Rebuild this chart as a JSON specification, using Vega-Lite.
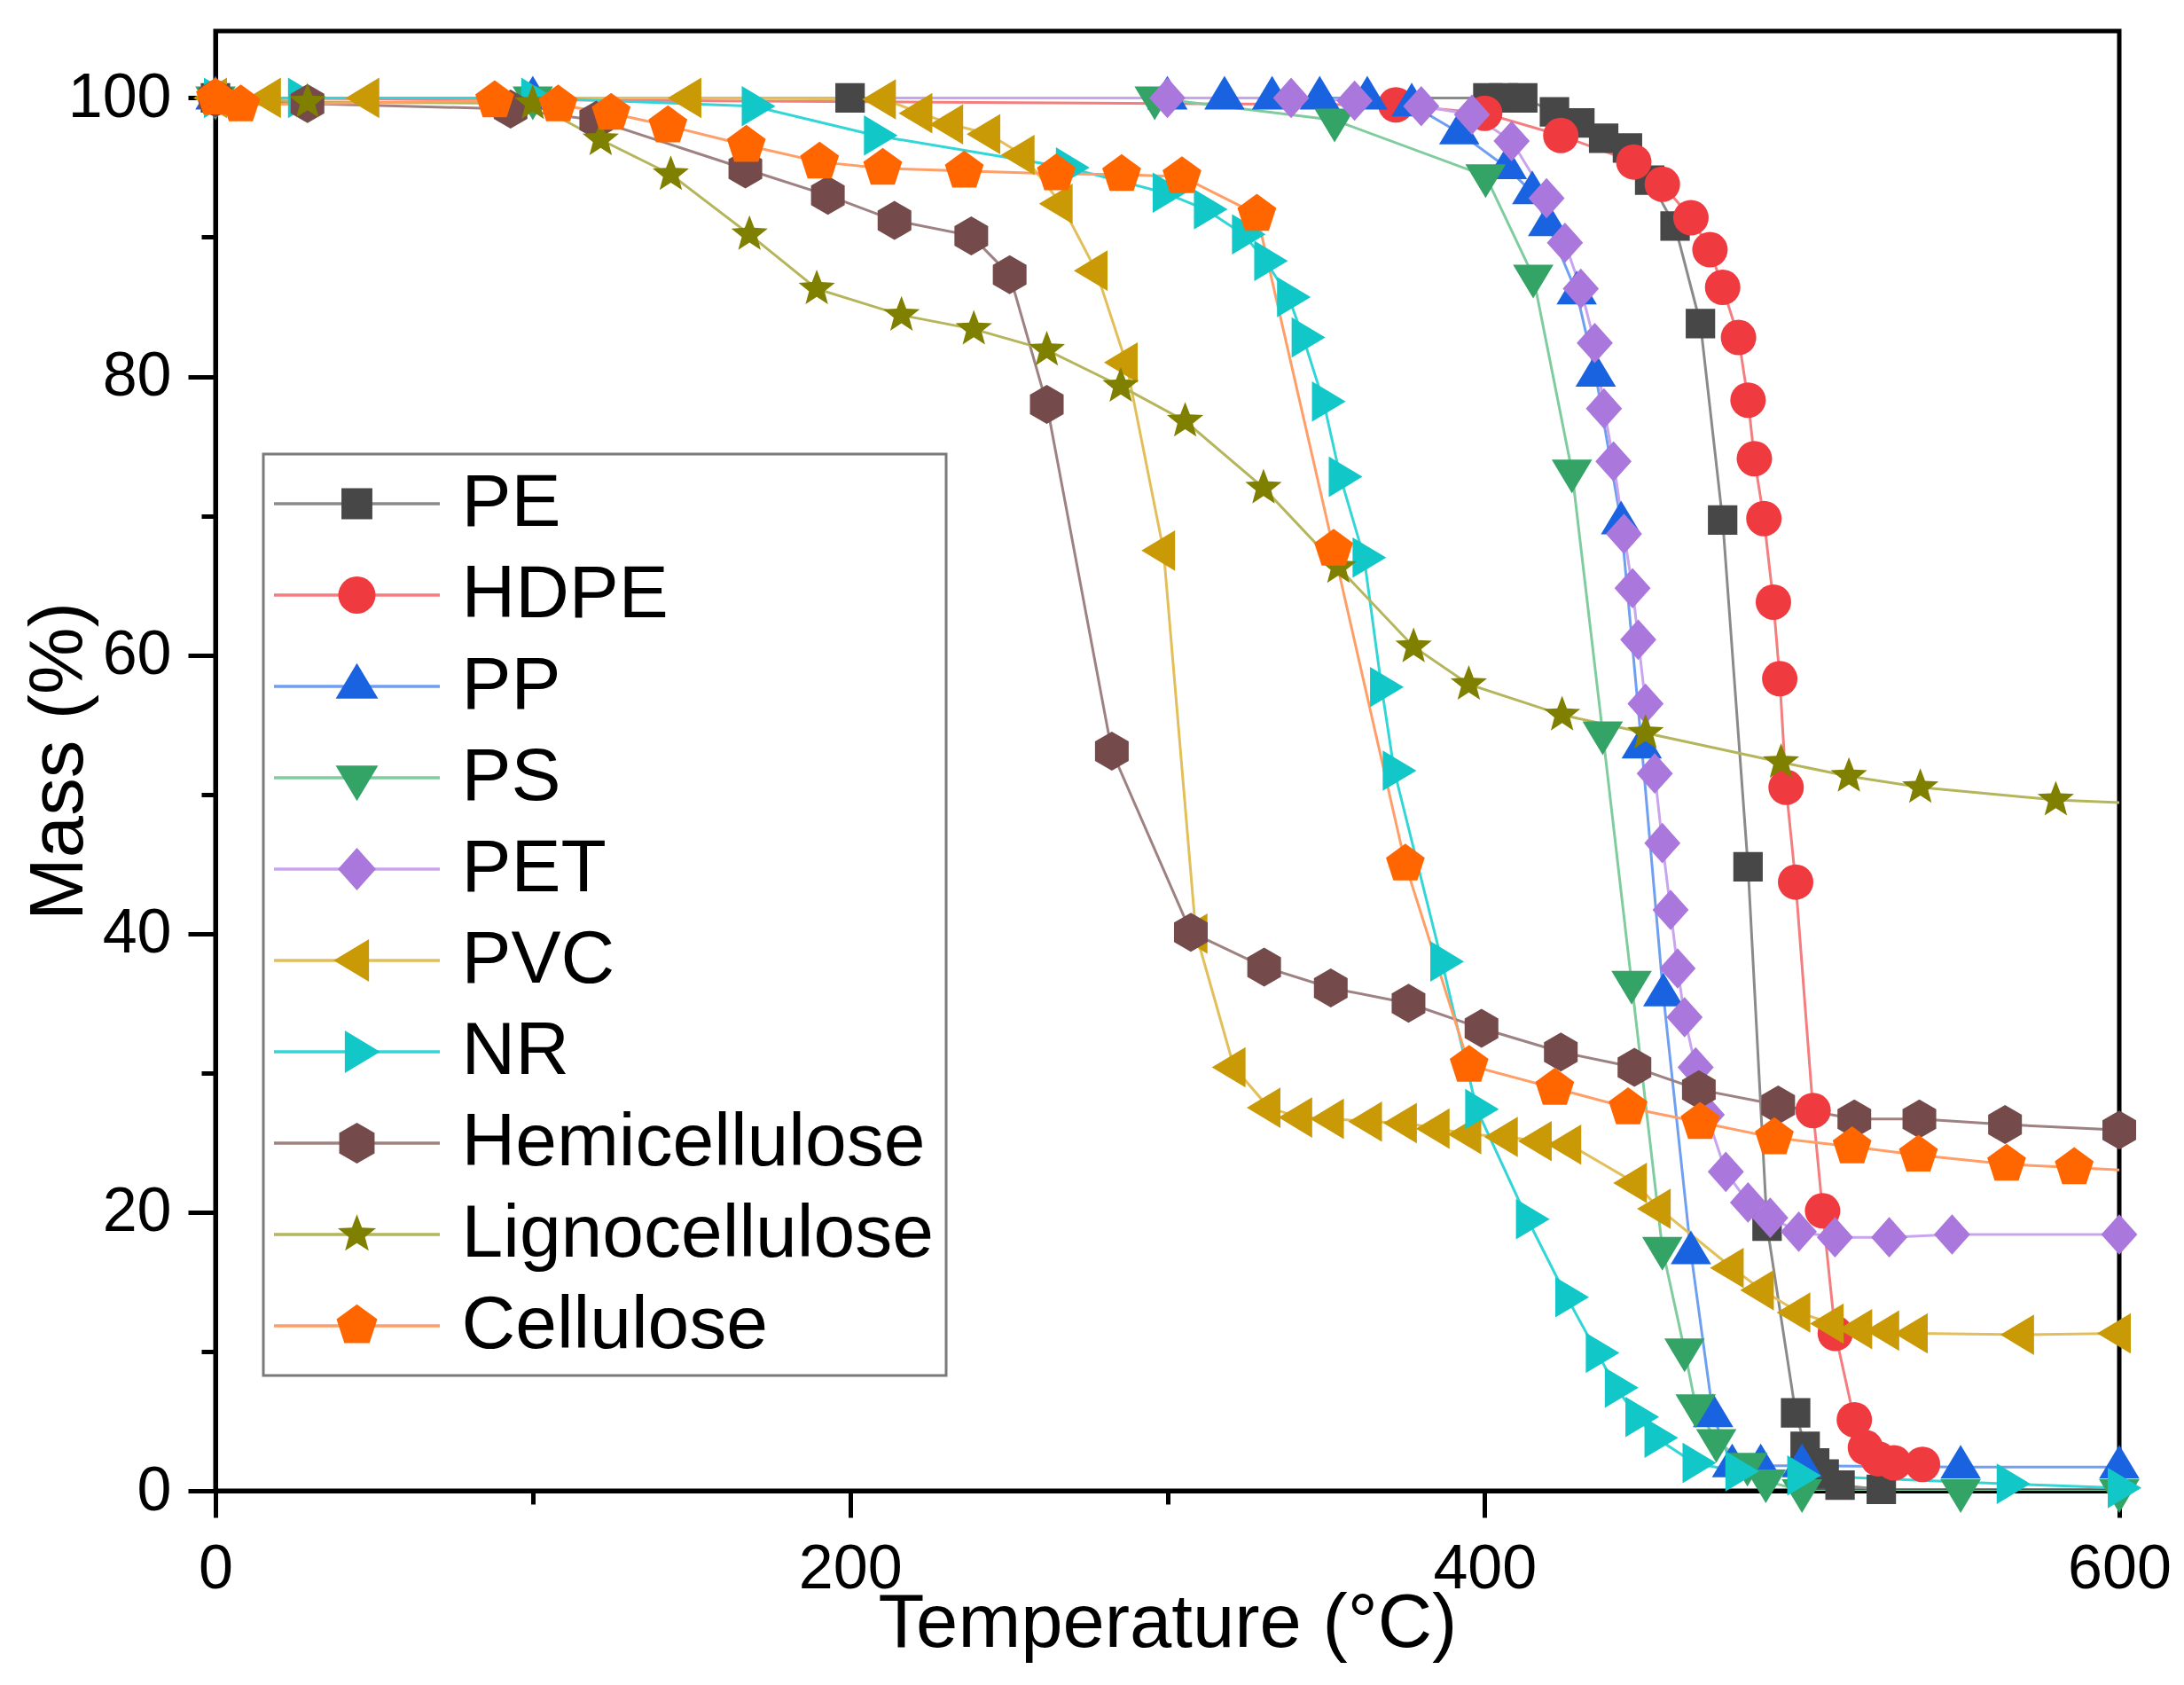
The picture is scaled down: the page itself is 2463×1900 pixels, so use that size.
{
  "$schema": "https://vega.github.io/schema/vega-lite/v6.json",
  "description": "Thermogravimetric mass loss curves of plastics and biomass components",
  "width": 2147,
  "height": 1646,
  "autosize": {"type": "none"},
  "padding": {"left": 243, "top": 35, "right": 73, "bottom": 219},
  "background": "white",
  "config": {
    "font": "Liberation Sans",
    "view": {"stroke": "#000000", "strokeWidth": 5},
    "axis": {
      "grid": false,
      "domainColor": "#000000",
      "domainWidth": 5,
      "tickColor": "#000000",
      "tickWidth": 5,
      "labelFont": "Liberation Sans",
      "labelFontSize": 70,
      "labelColor": "#000000",
      "labelFlush": false,
      "labelOverlap": false,
      "titleFont": "Liberation Sans",
      "titleFontSize": 85,
      "titleFontWeight": "normal",
      "titleColor": "#000000"
    },
    "legend": {"labelFont": "Liberation Sans", "labelFontSize": 84, "labelColor": "#000000", "labelLimit": 0}
  },
  "data": {
    "values": [
      {"s": "PE", "t": 0, "m": 100}, {"s": "PE", "t": 200, "m": 100}, {"s": "PE", "t": 401, "m": 100},
      {"s": "PE", "t": 406, "m": 100}, {"s": "PE", "t": 412, "m": 100}, {"s": "PE", "t": 422, "m": 99.0},
      {"s": "PE", "t": 430, "m": 98.2}, {"s": "PE", "t": 437.5, "m": 97.1}, {"s": "PE", "t": 445, "m": 96.4},
      {"s": "PE", "t": 452, "m": 94.1}, {"s": "PE", "t": 460, "m": 90.8}, {"s": "PE", "t": 468, "m": 83.8},
      {"s": "PE", "t": 475, "m": 69.7}, {"s": "PE", "t": 483, "m": 44.8}, {"s": "PE", "t": 489, "m": 19},
      {"s": "PE", "t": 498, "m": 5.6}, {"s": "PE", "t": 501, "m": 3.2}, {"s": "PE", "t": 504, "m": 2},
      {"s": "PE", "t": 507, "m": 1.2}, {"s": "PE", "t": 512, "m": 0.4}, {"s": "PE", "t": 525, "m": 0.1},

      {"s": "HDPE", "t": 0, "m": 100}, {"s": "HDPE", "t": 372, "m": 99.5}, {"s": "HDPE", "t": 400, "m": 98.9},
      {"s": "HDPE", "t": 424, "m": 97.3}, {"s": "HDPE", "t": 447, "m": 95.4}, {"s": "HDPE", "t": 456, "m": 93.8},
      {"s": "HDPE", "t": 465, "m": 91.4}, {"s": "HDPE", "t": 471, "m": 89.1}, {"s": "HDPE", "t": 475, "m": 86.4},
      {"s": "HDPE", "t": 480, "m": 82.8}, {"s": "HDPE", "t": 483, "m": 78.3}, {"s": "HDPE", "t": 485, "m": 74.1},
      {"s": "HDPE", "t": 488, "m": 69.8}, {"s": "HDPE", "t": 491, "m": 63.8}, {"s": "HDPE", "t": 493, "m": 58.3},
      {"s": "HDPE", "t": 495, "m": 50.5}, {"s": "HDPE", "t": 498, "m": 43.7}, {"s": "HDPE", "t": 503.5, "m": 27.3},
      {"s": "HDPE", "t": 506.5, "m": 20.1}, {"s": "HDPE", "t": 510.5, "m": 11.3}, {"s": "HDPE", "t": 516.5, "m": 5.1},
      {"s": "HDPE", "t": 520, "m": 3.1}, {"s": "HDPE", "t": 524, "m": 2.3}, {"s": "HDPE", "t": 529, "m": 2.0},
      {"s": "HDPE", "t": 538, "m": 1.9},

      {"s": "PP", "t": 0, "m": 100}, {"s": "PP", "t": 100, "m": 100}, {"s": "PP", "t": 300, "m": 100},
      {"s": "PP", "t": 318, "m": 100}, {"s": "PP", "t": 333, "m": 100}, {"s": "PP", "t": 348, "m": 100},
      {"s": "PP", "t": 363, "m": 100}, {"s": "PP", "t": 377, "m": 99.5}, {"s": "PP", "t": 392, "m": 97.5},
      {"s": "PP", "t": 407, "m": 95}, {"s": "PP", "t": 415, "m": 93.2}, {"s": "PP", "t": 420, "m": 90.9},
      {"s": "PP", "t": 429, "m": 86}, {"s": "PP", "t": 435, "m": 80.1}, {"s": "PP", "t": 443, "m": 69.5},
      {"s": "PP", "t": 449.5, "m": 53.4}, {"s": "PP", "t": 456.3, "m": 35.6}, {"s": "PP", "t": 465, "m": 17.1},
      {"s": "PP", "t": 472, "m": 5.4}, {"s": "PP", "t": 478, "m": 1.8}, {"s": "PP", "t": 487, "m": 1.8},
      {"s": "PP", "t": 500, "m": 1.8}, {"s": "PP", "t": 550, "m": 1.7}, {"s": "PP", "t": 600, "m": 1.7},

      {"s": "PS", "t": 0, "m": 100}, {"s": "PS", "t": 100, "m": 100}, {"s": "PS", "t": 296, "m": 100},
      {"s": "PS", "t": 352.7, "m": 98.4}, {"s": "PS", "t": 400.3, "m": 94.4}, {"s": "PS", "t": 415.3, "m": 87.2},
      {"s": "PS", "t": 427.5, "m": 73.2}, {"s": "PS", "t": 437.2, "m": 54.4}, {"s": "PS", "t": 446.3, "m": 36.5},
      {"s": "PS", "t": 456, "m": 17.4}, {"s": "PS", "t": 463, "m": 10.1}, {"s": "PS", "t": 466.5, "m": 6.1},
      {"s": "PS", "t": 473, "m": 3.6}, {"s": "PS", "t": 482.8, "m": 1.9}, {"s": "PS", "t": 488.6, "m": 0.7},
      {"s": "PS", "t": 500, "m": 0}, {"s": "PS", "t": 550, "m": 0}, {"s": "PS", "t": 600, "m": 0},

      {"s": "PET", "t": 0, "m": 100}, {"s": "PET", "t": 300, "m": 100}, {"s": "PET", "t": 339, "m": 100},
      {"s": "PET", "t": 359, "m": 99.8}, {"s": "PET", "t": 380, "m": 99.4}, {"s": "PET", "t": 396, "m": 98.8},
      {"s": "PET", "t": 408.5, "m": 96.9}, {"s": "PET", "t": 419.5, "m": 92.8}, {"s": "PET", "t": 425.3, "m": 89.6},
      {"s": "PET", "t": 430.3, "m": 86.3}, {"s": "PET", "t": 434.7, "m": 82.4}, {"s": "PET", "t": 437.6, "m": 77.7},
      {"s": "PET", "t": 440.6, "m": 73.9}, {"s": "PET", "t": 443.9, "m": 68.7}, {"s": "PET", "t": 446.6, "m": 64.8},
      {"s": "PET", "t": 448.4, "m": 61.1}, {"s": "PET", "t": 450.7, "m": 56.5}, {"s": "PET", "t": 453.6, "m": 51.5},
      {"s": "PET", "t": 456, "m": 46.5}, {"s": "PET", "t": 458.6, "m": 41.7}, {"s": "PET", "t": 460.8, "m": 37.5},
      {"s": "PET", "t": 463, "m": 34}, {"s": "PET", "t": 466.5, "m": 30.4}, {"s": "PET", "t": 470, "m": 27},
      {"s": "PET", "t": 476, "m": 22.9}, {"s": "PET", "t": 483, "m": 20.7}, {"s": "PET", "t": 490, "m": 19.6},
      {"s": "PET", "t": 499, "m": 18.6}, {"s": "PET", "t": 510.4, "m": 18.2}, {"s": "PET", "t": 527.5, "m": 18.2},
      {"s": "PET", "t": 547.3, "m": 18.4}, {"s": "PET", "t": 600, "m": 18.4},

      {"s": "PVC", "t": 0, "m": 100}, {"s": "PVC", "t": 17, "m": 100}, {"s": "PVC", "t": 48, "m": 100},
      {"s": "PVC", "t": 149.5, "m": 100}, {"s": "PVC", "t": 210.8, "m": 99.9}, {"s": "PVC", "t": 222.3, "m": 98.9},
      {"s": "PVC", "t": 232, "m": 98.1}, {"s": "PVC", "t": 243.7, "m": 97.4}, {"s": "PVC", "t": 254.5, "m": 95.9},
      {"s": "PVC", "t": 266.5, "m": 92.4}, {"s": "PVC", "t": 277.5, "m": 87.6}, {"s": "PVC", "t": 287, "m": 81},
      {"s": "PVC", "t": 298.8, "m": 67.5}, {"s": "PVC", "t": 309, "m": 40}, {"s": "PVC", "t": 321, "m": 30.4},
      {"s": "PVC", "t": 332, "m": 27.5}, {"s": "PVC", "t": 342, "m": 26.8}, {"s": "PVC", "t": 352, "m": 26.7},
      {"s": "PVC", "t": 364, "m": 26.5}, {"s": "PVC", "t": 375, "m": 26.4}, {"s": "PVC", "t": 385.3, "m": 26},
      {"s": "PVC", "t": 395.3, "m": 25.6}, {"s": "PVC", "t": 406.8, "m": 25.4}, {"s": "PVC", "t": 417.5, "m": 25.1},
      {"s": "PVC", "t": 426.8, "m": 24.85}, {"s": "PVC", "t": 447.5, "m": 22.1}, {"s": "PVC", "t": 455, "m": 20.25},
      {"s": "PVC", "t": 478, "m": 16}, {"s": "PVC", "t": 487.5, "m": 14.4}, {"s": "PVC", "t": 499, "m": 12.8},
      {"s": "PVC", "t": 509.5, "m": 12}, {"s": "PVC", "t": 518.5, "m": 11.6}, {"s": "PVC", "t": 527, "m": 11.5},
      {"s": "PVC", "t": 536, "m": 11.3}, {"s": "PVC", "t": 569.5, "m": 11.2}, {"s": "PVC", "t": 600, "m": 11.3},

      {"s": "NR", "t": 0, "m": 100}, {"s": "NR", "t": 26.5, "m": 100}, {"s": "NR", "t": 100, "m": 100},
      {"s": "NR", "t": 169.5, "m": 99.4}, {"s": "NR", "t": 208, "m": 97.3}, {"s": "NR", "t": 268.5, "m": 95},
      {"s": "NR", "t": 299, "m": 93.2}, {"s": "NR", "t": 312, "m": 92}, {"s": "NR", "t": 324, "m": 90.2},
      {"s": "NR", "t": 331, "m": 88.3}, {"s": "NR", "t": 338.2, "m": 85.7}, {"s": "NR", "t": 342.8, "m": 82.8},
      {"s": "NR", "t": 349.2, "m": 78.2}, {"s": "NR", "t": 354.5, "m": 72.8}, {"s": "NR", "t": 362, "m": 67},
      {"s": "NR", "t": 367.5, "m": 57.7}, {"s": "NR", "t": 371.5, "m": 51.7}, {"s": "NR", "t": 386.5, "m": 38},
      {"s": "NR", "t": 397.5, "m": 27.4}, {"s": "NR", "t": 413.5, "m": 19.5}, {"s": "NR", "t": 425.9, "m": 13.9},
      {"s": "NR", "t": 435.5, "m": 9.9}, {"s": "NR", "t": 441.5, "m": 7.4}, {"s": "NR", "t": 448, "m": 5.3},
      {"s": "NR", "t": 454, "m": 3.8}, {"s": "NR", "t": 466, "m": 2}, {"s": "NR", "t": 479.5, "m": 1.4},
      {"s": "NR", "t": 499, "m": 1.1}, {"s": "NR", "t": 565, "m": 0.5}, {"s": "NR", "t": 600, "m": 0.2},

      {"s": "Hemicellulose", "t": 0, "m": 100}, {"s": "Hemicellulose", "t": 29, "m": 99.6}, {"s": "Hemicellulose", "t": 93, "m": 99.2},
      {"s": "Hemicellulose", "t": 120, "m": 98.4}, {"s": "Hemicellulose", "t": 167, "m": 94.9}, {"s": "Hemicellulose", "t": 193, "m": 93},
      {"s": "Hemicellulose", "t": 214, "m": 91.2}, {"s": "Hemicellulose", "t": 238.2, "m": 90.1}, {"s": "Hemicellulose", "t": 250.3, "m": 87.3},
      {"s": "Hemicellulose", "t": 262, "m": 78}, {"s": "Hemicellulose", "t": 282.5, "m": 53.1}, {"s": "Hemicellulose", "t": 307.4, "m": 40.1},
      {"s": "Hemicellulose", "t": 330.5, "m": 37.6}, {"s": "Hemicellulose", "t": 351.5, "m": 36.1}, {"s": "Hemicellulose", "t": 376, "m": 35},
      {"s": "Hemicellulose", "t": 399, "m": 33.2}, {"s": "Hemicellulose", "t": 424, "m": 31.5}, {"s": "Hemicellulose", "t": 447.2, "m": 30.4},
      {"s": "Hemicellulose", "t": 467.5, "m": 28.8}, {"s": "Hemicellulose", "t": 492.5, "m": 27.7}, {"s": "Hemicellulose", "t": 516.5, "m": 26.7},
      {"s": "Hemicellulose", "t": 537, "m": 26.7}, {"s": "Hemicellulose", "t": 564, "m": 26.3}, {"s": "Hemicellulose", "t": 600, "m": 25.9},

      {"s": "Lignocellulose", "t": 0, "m": 100}, {"s": "Lignocellulose", "t": 29, "m": 99.7}, {"s": "Lignocellulose", "t": 100, "m": 99.6},
      {"s": "Lignocellulose", "t": 121.4, "m": 97}, {"s": "Lignocellulose", "t": 143.5, "m": 94.5}, {"s": "Lignocellulose", "t": 168.3, "m": 90.2},
      {"s": "Lignocellulose", "t": 189.5, "m": 86.3}, {"s": "Lignocellulose", "t": 216.2, "m": 84.4}, {"s": "Lignocellulose", "t": 239, "m": 83.4},
      {"s": "Lignocellulose", "t": 262, "m": 81.9}, {"s": "Lignocellulose", "t": 285.3, "m": 79.3}, {"s": "Lignocellulose", "t": 305.6, "m": 76.8},
      {"s": "Lignocellulose", "t": 330.3, "m": 72}, {"s": "Lignocellulose", "t": 353.9, "m": 66.3}, {"s": "Lignocellulose", "t": 377.6, "m": 60.6},
      {"s": "Lignocellulose", "t": 395, "m": 57.9}, {"s": "Lignocellulose", "t": 424.4, "m": 55.7}, {"s": "Lignocellulose", "t": 450.7, "m": 54.4},
      {"s": "Lignocellulose", "t": 493.4, "m": 52.3}, {"s": "Lignocellulose", "t": 514.8, "m": 51.3}, {"s": "Lignocellulose", "t": 537.3, "m": 50.5},
      {"s": "Lignocellulose", "t": 580, "m": 49.6}, {"s": "Lignocellulose", "t": 620, "m": 49.2},

      {"s": "Cellulose", "t": 0, "m": 100}, {"s": "Cellulose", "t": 8, "m": 99.5}, {"s": "Cellulose", "t": 88, "m": 99.8},
      {"s": "Cellulose", "t": 108, "m": 99.5}, {"s": "Cellulose", "t": 124.7, "m": 98.9}, {"s": "Cellulose", "t": 142.6, "m": 98},
      {"s": "Cellulose", "t": 167.3, "m": 96.6}, {"s": "Cellulose", "t": 190.4, "m": 95.4}, {"s": "Cellulose", "t": 210.3, "m": 94.95},
      {"s": "Cellulose", "t": 236, "m": 94.75}, {"s": "Cellulose", "t": 265, "m": 94.55}, {"s": "Cellulose", "t": 285.6, "m": 94.5},
      {"s": "Cellulose", "t": 304.6, "m": 94.35}, {"s": "Cellulose", "t": 328.2, "m": 91.65}, {"s": "Cellulose", "t": 352.4, "m": 67.6},
      {"s": "Cellulose", "t": 375, "m": 45}, {"s": "Cellulose", "t": 395.1, "m": 30.55}, {"s": "Cellulose", "t": 422.1, "m": 28.9},
      {"s": "Cellulose", "t": 445.2, "m": 27.5}, {"s": "Cellulose", "t": 467.9, "m": 26.45}, {"s": "Cellulose", "t": 491.3, "m": 25.35},
      {"s": "Cellulose", "t": 515.8, "m": 24.7}, {"s": "Cellulose", "t": 536.7, "m": 24.1}, {"s": "Cellulose", "t": 564.5, "m": 23.45},
      {"s": "Cellulose", "t": 585.8, "m": 23.2}, {"s": "Cellulose", "t": 612, "m": 22.9}
    ]
  },
  "layer": [
    {
      "mark": {"type": "line", "strokeWidth": 3, "clip": true},
      "encoding": {
        "x": {
          "field": "t", "type": "quantitative",
          "scale": {"domain": [0, 600], "nice": false},
          "axis": {"orient": "bottom", "values": [0, 200, 400, 600], "tickSize": 30, "labelPadding": 24,
                   "title": "Temperature (°C)", "titleY": 175, "titleBaseline": "alphabetic"}
        },
        "y": {
          "field": "m", "type": "quantitative",
          "scale": {"domain": [0, 104.8], "nice": false},
          "axis": {"orient": "left", "values": [0, 20, 40, 60, 80, 100], "tickSize": 31, "labelPadding": 19,
                   "title": "Mass (%)", "titleX": -151, "titleY": 823, "titleAngle": 270,
                   "titleBaseline": "alphabetic", "titleAlign": "center"}
        },
        "color": {
          "field": "s", "type": "nominal",
          "scale": {
            "domain": ["PE", "HDPE", "PP", "PS", "PET", "PVC", "NR", "Hemicellulose", "Lignocellulose", "Cellulose", "~"],
            "range": ["#8a8a8a", "#f47d80", "#6f9ff0", "#7fcc9e", "#c8a5ee", "#e2bf5a", "#33d6d6", "#9e8181", "#b5b55c", "#ff9e66", "#ffffff"]
          },
          "legend": {
            "orient": "none", "legendX": 54, "legendY": 477, "title": null,
            "values": ["PE", "HDPE", "PP", "PS", "PET", "PVC", "NR", "Hemicellulose", "Lignocellulose", "Cellulose"],
            "symbolType": "M-2.095,0H6.81", "symbolSize": 1764, "symbolStrokeWidth": 3.5,
            "padding": 14, "rowPadding": 19, "labelOffset": 125.5,
            "strokeColor": "#7a7a7a",
            "encode": {"legend": {"update": {"strokeWidth": {"value": 3}}}}
          }
        }
      }
    },
    {
      "transform": [{"filter": "datum.t <= 600"}],
      "mark": {"type": "point", "filled": true, "size": 1600, "opacity": 1, "strokeWidth": 0},
      "encoding": {
        "x": {
          "field": "t", "type": "quantitative",
          "axis": {"orient": "bottom", "values": [100, 300, 500], "tickSize": 15, "labels": false, "domain": false, "title": null}
        },
        "y": {
          "field": "m", "type": "quantitative",
          "axis": {"orient": "left", "values": [10, 30, 50, 70, 90], "tickSize": 16, "labels": false, "domain": false, "title": null}
        },
        "fill": {
          "field": "s", "type": "nominal",
          "scale": {
            "domain": ["PE", "HDPE", "PP", "PS", "PET", "PVC", "NR", "Hemicellulose", "Lignocellulose", "Cellulose"],
            "range": ["#474747", "#ef3b3f", "#1a63e0", "#33a366", "#aa77dd", "#c99a06", "#12c7c7", "#744a4a", "#808000", "#ff6600"]
          },
          "legend": {
            "orient": "none", "legendX": 103.5, "legendY": 477, "title": null,
            "symbolSize": 1764, "symbolStrokeWidth": 0, "symbolOpacity": 1,
            "padding": 14, "rowPadding": 19, "labelOffset": 18, "labelExpr": "' '"
          }
        },
        "shape": {
          "field": "s", "type": "nominal",
          "scale": {
            "domain": ["PE", "HDPE", "PP", "PS", "PET", "PVC", "NR", "Hemicellulose", "Lignocellulose", "Cellulose"],
            "range": [
              "M-0.83,-0.83H0.83V0.83H-0.83Z",
              "circle",
              "M0,-1.25L1.14,0.65L-1.14,0.65Z",
              "M0,1.25L1.14,-0.65L-1.14,-0.65Z",
              "M0,-1.14L1.02,0L0,1.14L-1.02,0Z",
              "M-1.25,0L0.65,-1.14L0.65,1.14Z",
              "M1.25,0L-0.65,-1.14L-0.65,1.14Z",
              "M0,-1.1L0.95,-0.55L0.95,0.55L0,1.1L-0.95,0.55L-0.95,-0.55Z",
              "M0,-1.08L0.27,-0.372L1.027,-0.334L0.4375,0.142L0.635,0.874L0,0.46L-0.635,0.874L-0.4375,0.142L-1.027,-0.334L-0.27,-0.372Z",
              "M0,-1.15L1.094,-0.355L0.676,0.93L-0.676,0.93L-1.094,-0.355Z"
            ]
          },
          "legend": {
            "orient": "none", "legendX": 103.5, "legendY": 477, "title": null,
            "symbolSize": 1764, "symbolStrokeWidth": 0, "symbolOpacity": 1,
            "padding": 14, "rowPadding": 19, "labelOffset": 18, "labelExpr": "' '"
          }
        }
      }
    }
  ],
  "resolve": {"axis": {"x": "independent", "y": "independent"}}
}
